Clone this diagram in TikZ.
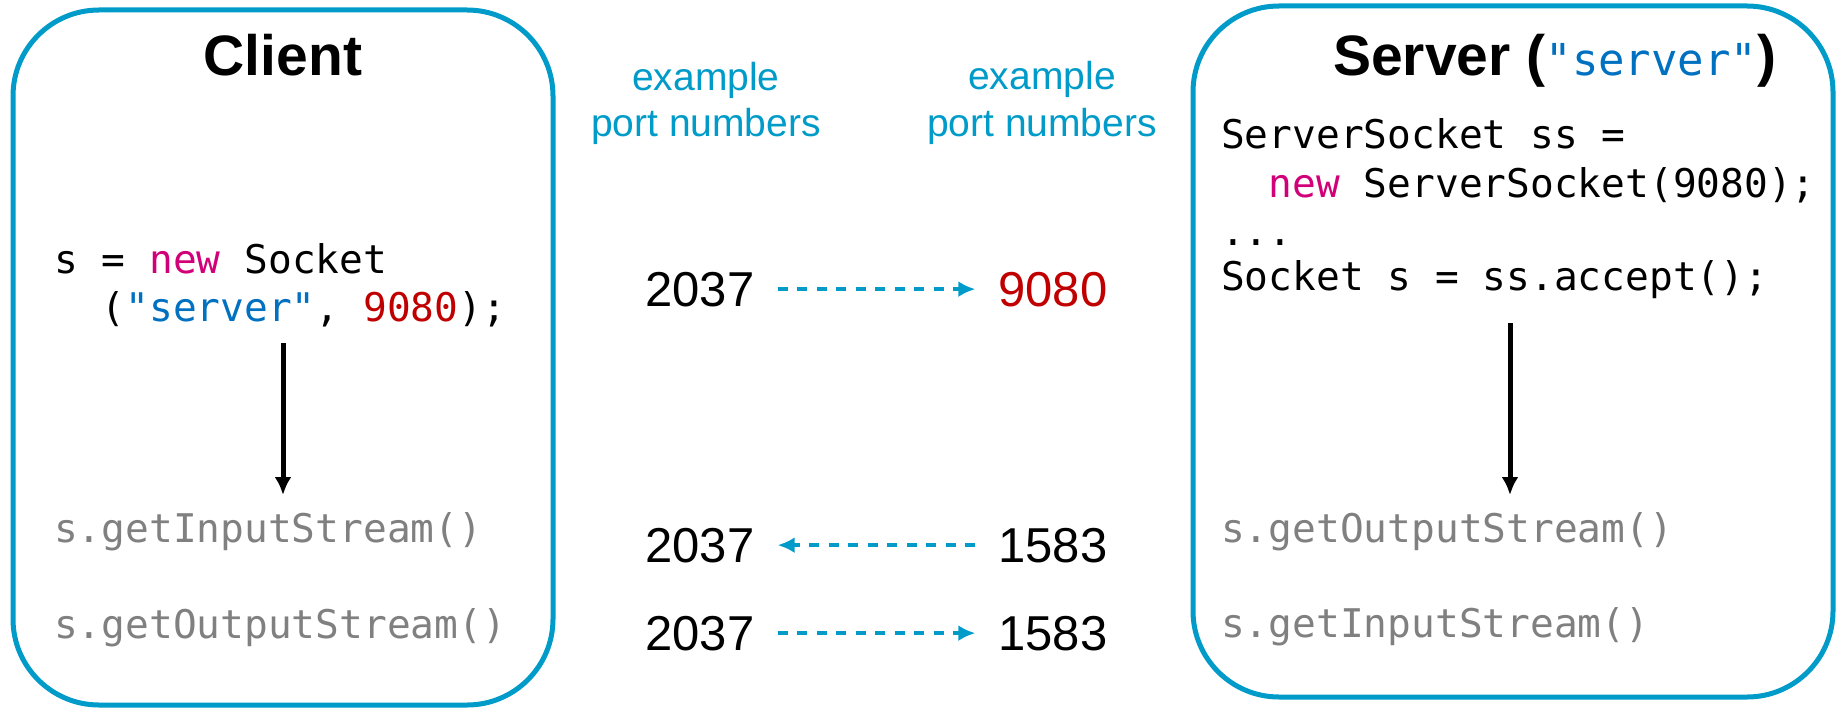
\documentclass[tikz,border=0pt]{standalone}
\usepackage{fontspec}
\setmainfont{Liberation Sans}
\setmonofont{DejaVu Sans Mono}
\usetikzlibrary{arrows.meta}
\definecolor{cyanc}{RGB}{0,155,200}
\definecolor{newc}{RGB}{210,0,120}
\definecolor{strc}{RGB}{0,112,192}
\definecolor{numc}{RGB}{192,0,0}
\definecolor{grayc}{RGB}{128,128,128}
\newcommand{\codefont}{\ttfamily\fontsize{39.5}{48}\selectfont}
\begin{document}
\begin{tikzpicture}[x=1pt,y=-1pt,
 panel/.style={draw=cyanc,line width=5pt,rounded corners=86pt,inner sep=0pt},
 title/.style={font=\bfseries\fontsize{57}{68}\selectfont,anchor=base,inner sep=0pt},
 code/.style={font=\codefont,anchor=base west,inner sep=0pt},
 dim/.style={code,text=grayc},
 lbl/.style={font=\fontsize{39}{46}\selectfont,text=cyanc,anchor=base,inner sep=0pt},
 port/.style={font=\fontsize{49}{58}\selectfont,anchor=base,inner sep=0pt},
 flow/.style={-{Latex[length=18pt,width=17pt]},line width=5pt},
 link/.style={-{Latex[length=17pt,width=16pt]},draw=cyanc,line width=3.5pt,dash pattern=on 10pt off 9.5pt,shorten <=23pt,shorten >=23pt}
]
\useasboundingbox (0,0) rectangle (1839,709);
% panels
\node[panel,minimum width=540pt,minimum height=695pt] (client) at (283,357.5) {};
\node[panel,minimum width=640pt,minimum height=691pt] (server) at (1513,351.5) {};
% titles
\node[title] (ctitle) at (283,76) {Client};
\node[title,anchor=base west] (stitle) at (1333,76) {Server (\textcolor{strc}{\mdseries\ttfamily\fontsize{44}{50}\selectfont "server"})};
% client code
\node[code] (c1) at (54,273) {s = \textcolor{newc}{new} Socket};
\node[code] (c2) at (54,321) {\hphantom{xx}(\textcolor{strc}{"server"}, \textcolor{numc}{9080});};
\node[dim] (cin) at (54,542) {s.getInputStream()};
\node[dim] (cout) at (54,638) {s.getOutputStream()};
\coordinate (ca1) at (283,343);
\coordinate (ca2) at (283,495);
\draw[flow] (ca1) -- (ca2);
% server code
\node[code] (s1) at (1221,148) {ServerSocket ss =};
\node[code] (s2) at (1221,197) {\hphantom{xx}\textcolor{newc}{new} ServerSocket(9080);};
\node[code] (s3) at (1221,245) {...};
\node[code] (s4) at (1221,290) {Socket s = ss.accept();};
\node[dim] (sout) at (1221,542) {s.getOutputStream()};
\node[dim] (sin) at (1221,637) {s.getInputStream()};
\coordinate (sa1) at (1510,323);
\coordinate (sa2) at (1510,495);
\draw[flow] (sa1) -- (sa2);
% middle labels
\node[lbl] (ex1) at (706,90) {example};
\node[lbl] (pn1) at (706,136) {port numbers};
\node[lbl] (ex2) at (1042,89) {example};
\node[lbl] (pn2) at (1042,136) {port numbers};
% ports
\node[port] (a1) at (700,306) {2037};
\node[port,text=numc] (b1) at (1053,306) {9080};
\node[port] (a2) at (700,562) {2037};
\node[port] (b2) at (1053,562) {1583};
\node[port] (a3) at (700,650) {2037};
\node[port] (b3) at (1053,650) {1583};
\draw[link] (a1.east) -- (b1.west);
\draw[link] (b2.west) -- (a2.east);
\draw[link] (a3.east) -- (b3.west);
\end{tikzpicture}
\end{document}
